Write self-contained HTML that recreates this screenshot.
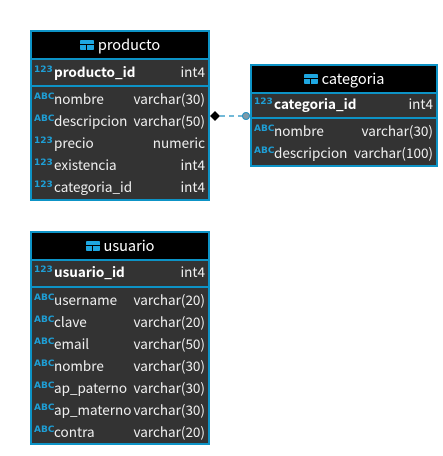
<!DOCTYPE html>
<html><head><meta charset="utf-8"><style>
body{margin:0;width:443px;height:456px;background:#fff;position:relative;overflow:hidden;font-family:"Noto Sans CJK SC","DejaVu Sans",sans-serif;}
.t{position:absolute;background:#333;border:2px solid #0d93c6;box-sizing:border-box;}
.h{position:absolute;left:0;right:0;top:0;height:26px;background:#000;color:#fff;font-size:14.5px;text-align:center;line-height:25px;border-bottom:2px solid #0d93c6;}
.ic{display:inline-block;width:14px;height:10px;background:#1ea7e1;position:relative;vertical-align:0px;margin-right:4px;border-radius:1px}
.ic:before{content:"";position:absolute;left:0;right:0;top:4px;height:1px;background:#000}
.ic:after{content:"";position:absolute;top:4px;bottom:0;left:6.5px;width:1px;background:#000}
.sep{position:absolute;left:0;right:0;height:2px;background:#0d93c6}
.r{position:absolute;left:0;right:0;height:22px;line-height:20px;color:#f0f0f0;font-size:13.5px;}
.r .k{position:absolute;left:2px;top:-3px;font-size:9px;font-weight:bold;color:#1e9fd6;font-family:"DejaVu Sans",sans-serif}
.r .n{position:absolute;left:22px;top:-2px}
.r .ty{position:absolute;right:3px;top:-2px}
.pk .n{font-weight:bold;color:#fff}
</style></head><body>

<div class="t" style="left:30px;top:30px;width:180px;height:171px">
<div class="h"><span class="ic"></span>producto</div>
<div class="r pk" style="top:31px"><span class="k">123</span><span class="n">producto_id</span><span class="ty">int4</span></div>
<div class="sep" style="top:53px"></div>
<div class="r" style="top:58px"><span class="k">ABC</span><span class="n">nombre</span><span class="ty">varchar(30)</span></div>
<div class="r" style="top:80px"><span class="k">ABC</span><span class="n">descripcion</span><span class="ty">varchar(50)</span></div>
<div class="r" style="top:102px"><span class="k">123</span><span class="n">precio</span><span class="ty">numeric</span></div>
<div class="r" style="top:124px"><span class="k">123</span><span class="n">existencia</span><span class="ty">int4</span></div>
<div class="r" style="top:146px"><span class="k">123</span><span class="n">categoria_id</span><span class="ty">int4</span></div>
</div>

<div class="t" style="left:250px;top:64px;width:188px;height:103px">
<div class="h"><span class="ic"></span>categoria</div>
<div class="r pk" style="top:29px"><span class="k">123</span><span class="n">categoria_id</span><span class="ty">int4</span></div>
<div class="sep" style="top:51px"></div>
<div class="r" style="top:56px"><span class="k">ABC</span><span class="n">nombre</span><span class="ty">varchar(30)</span></div>
<div class="r" style="top:78px"><span class="k">ABC</span><span class="n">descripcion</span><span class="ty">varchar(100)</span></div>
</div>

<div class="t" style="left:30px;top:231px;width:180px;height:214px">
<div class="h"><span class="ic"></span>usuario</div>
<div class="r pk" style="top:30px"><span class="k">123</span><span class="n">usuario_id</span><span class="ty">int4</span></div>
<div class="sep" style="top:53px"></div>
<div class="r" style="top:58px"><span class="k">ABC</span><span class="n">username</span><span class="ty">varchar(20)</span></div>
<div class="r" style="top:80px"><span class="k">ABC</span><span class="n">clave</span><span class="ty">varchar(20)</span></div>
<div class="r" style="top:102px"><span class="k">ABC</span><span class="n">email</span><span class="ty">varchar(50)</span></div>
<div class="r" style="top:124px"><span class="k">ABC</span><span class="n">nombre</span><span class="ty">varchar(30)</span></div>
<div class="r" style="top:146px"><span class="k">ABC</span><span class="n">ap_paterno</span><span class="ty">varchar(30)</span></div>
<div class="r" style="top:168px"><span class="k">ABC</span><span class="n">ap_materno</span><span class="ty">varchar(30)</span></div>
<div class="r" style="top:190px"><span class="k">ABC</span><span class="n">contra</span><span class="ty">varchar(20)</span></div>
</div>

<svg style="position:absolute;left:0;top:0" width="443" height="456">
<line x1="220" y1="116" x2="243" y2="116" stroke="#1e8fc0" stroke-width="1.3" stroke-dasharray="5,4"/>
<polygon points="210,116 215,111 220,116 215,121" fill="#000"/>
<circle cx="246" cy="116" r="3.5" fill="#7f9aa8" stroke="#1e8fc0" stroke-width="1"/>
</svg>
</body></html>
